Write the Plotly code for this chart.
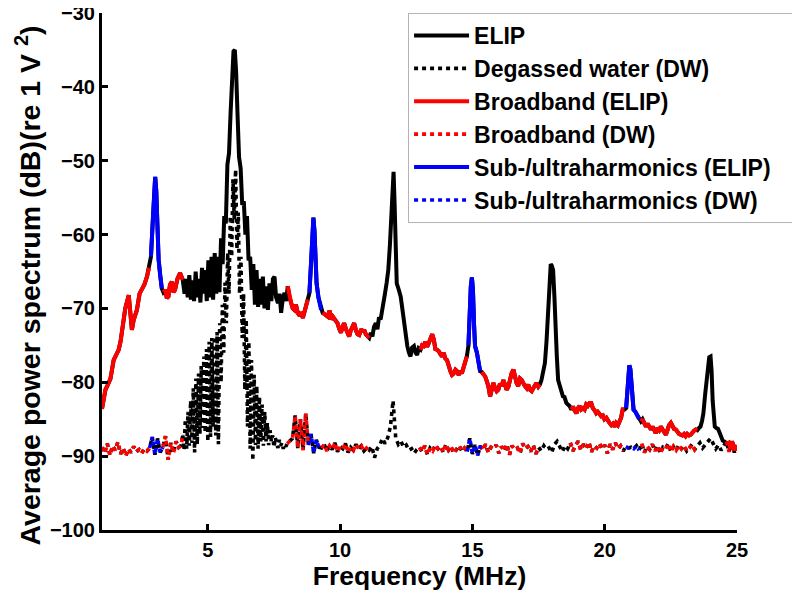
import numpy as np
import plotly.graph_objects as go

# ---------------- ELIP average power spectrum (solid) ----------------
elip_freq = [
    1.00, 1.06, 1.13, 1.20, 1.32, 1.44, 1.55, 1.63, 1.70, 1.76, 1.88, 2.01, 2.07, 2.13, 2.20, 2.32,
    2.42, 2.51, 2.60, 2.70, 2.78, 2.85, 2.92, 2.97, 3.01, 3.05, 3.10, 3.14, 3.20, 3.26, 3.32, 3.39,
    3.45, 3.51, 3.57, 3.64, 3.70, 3.76, 3.85, 3.95, 4.05, 4.12, 4.18, 4.24, 4.30, 4.36, 4.42, 4.48,
    4.54, 4.60, 4.66, 4.72, 4.78, 4.84, 4.90, 4.96, 5.02, 5.08, 5.14, 5.20, 5.26, 5.32, 5.38, 5.44,
    5.50, 5.56, 5.62, 5.68, 5.74, 5.80, 5.86, 5.92, 5.97, 6.02, 6.07, 6.12, 6.18, 6.24, 6.30, 6.36,
    6.42, 6.48, 6.54, 6.60, 6.66, 6.72, 6.78, 6.84, 6.90, 6.96, 7.02, 7.08, 7.14, 7.21, 7.27, 7.33,
    7.40, 7.46, 7.52, 7.58, 7.65, 7.71, 7.77, 7.84, 7.90, 7.96, 8.02, 8.09, 8.15, 8.21, 8.27, 8.33,
    8.40, 8.47, 8.53, 8.59, 8.65, 8.71, 8.78, 8.84, 8.90, 8.94, 8.99, 9.03, 9.07, 9.11, 9.18, 9.28,
    9.34, 9.43, 9.53, 9.60, 9.66, 9.72, 9.80, 9.90, 9.97, 10.03, 10.09, 10.15, 10.22, 10.28, 10.34, 10.40,
    10.47, 10.53, 10.60, 10.66, 10.72, 10.80, 10.86, 10.91, 10.97, 11.03, 11.10, 11.16, 11.22, 11.28, 11.35, 11.41,
    11.47, 11.53, 11.60, 11.66, 11.70, 11.76, 11.82, 11.88, 11.94, 11.98, 12.02, 12.06, 12.10, 12.14, 12.22, 12.29,
    12.35, 12.41, 12.47, 12.54, 12.60, 12.66, 12.72, 12.79, 12.85, 12.91, 12.97, 13.04, 13.10, 13.16, 13.22, 13.29,
    13.35, 13.41, 13.48, 13.54, 13.60, 13.66, 13.73, 13.79, 13.85, 13.91, 13.98, 14.04, 14.10, 14.17, 14.23, 14.29,
    14.36, 14.42, 14.48, 14.54, 14.60, 14.67, 14.73, 14.79, 14.85, 14.90, 14.94, 14.98, 15.02, 15.06, 15.10, 15.17,
    15.23, 15.29, 15.35, 15.42, 15.48, 15.54, 15.60, 15.67, 15.73, 15.79, 15.86, 15.92, 15.98, 16.04, 16.11, 16.17,
    16.23, 16.29, 16.36, 16.42, 16.48, 16.55, 16.61, 16.67, 16.73, 16.80, 16.86, 16.92, 16.98, 17.05, 17.11, 17.17,
    17.24, 17.30, 17.36, 17.42, 17.49, 17.55, 17.61, 17.67, 17.74, 17.80, 17.86, 17.91, 17.96, 18.00, 18.05, 18.10,
    18.14, 18.19, 18.24, 18.30, 18.36, 18.42, 18.48, 18.55, 18.61, 18.67, 18.74, 18.80, 18.86, 18.93, 18.99, 19.05,
    19.11, 19.18, 19.24, 19.30, 19.36, 19.43, 19.49, 19.55, 19.62, 19.68, 19.74, 19.80, 19.87, 19.93, 19.99, 20.06,
    20.12, 20.18, 20.25, 20.31, 20.37, 20.43, 20.50, 20.56, 20.62, 20.68, 20.75, 20.81, 20.86, 20.90, 20.93, 20.97,
    21.01, 21.05, 21.09, 21.16, 21.24, 21.30, 21.37, 21.43, 21.50, 21.56, 21.62, 21.69, 21.75, 21.81, 21.87, 21.93,
    21.99, 22.06, 22.12, 22.18, 22.24, 22.31, 22.37, 22.43, 22.50, 22.56, 22.62, 22.69, 22.75, 22.81, 22.87, 22.94,
    23.00, 23.06, 23.12, 23.19, 23.25, 23.31, 23.37, 23.44, 23.50, 23.56, 23.62, 23.68, 23.73, 23.80, 23.85, 23.90,
    23.95, 24.00, 24.04, 24.08, 24.12, 24.16, 24.22, 24.28, 24.34, 24.40, 24.46, 24.52, 24.57, 24.63, 24.69, 24.75,
    24.81, 24.88, 24.94, 25.00,
]
elip_db = [
    -83.6, -82.5, -81.0, -80.5, -79.5, -77.0, -76.0, -75.6, -74.5, -72.9, -70.0, -68.2, -70.0, -72.9, -71.5, -70.2,
    -68.0, -67.5, -66.8, -65.7, -64.5, -63.0, -58.0, -53.5, -52.2, -54.0, -60.0, -63.4, -65.5, -67.3, -67.8, -67.5,
    -68.6, -68.4, -66.8, -66.4, -67.8, -67.5, -66.0, -65.2, -66.1, -68.0, -66.0, -68.5, -65.5, -68.8, -66.2, -69.0,
    -65.0, -68.5, -66.0, -69.2, -64.5, -68.0, -64.8, -69.0, -63.5, -68.5, -63.0, -68.8, -62.5, -68.0, -63.0, -67.8,
    -60.5, -64.0, -57.5, -58.5, -50.5, -49.0, -43.5, -38.5, -35.2, -35.0, -38.0, -43.5, -49.5, -51.0, -56.0, -55.5,
    -60.0, -57.5, -63.5, -63.0, -67.5, -64.0, -69.5, -64.8, -69.8, -66.0, -69.5, -65.7, -70.0, -67.0, -70.2, -66.6,
    -69.0, -66.0, -65.7, -68.5, -69.3, -68.0, -70.6, -68.5, -67.9, -69.0, -67.0, -68.5, -69.3, -70.0, -70.2, -69.5,
    -70.6, -71.0, -70.5, -71.3, -70.5, -69.7, -68.8, -67.9, -64.0, -60.0, -57.7, -59.5, -63.5, -66.6, -68.5, -70.2,
    -70.6, -70.8, -71.1, -70.3, -71.5, -71.1, -71.5, -72.0, -72.8, -73.3, -72.5, -72.0, -72.8, -73.5, -73.8, -73.0,
    -72.3, -72.0, -73.0, -73.5, -73.6, -72.8, -73.2, -72.9, -73.5, -73.8, -74.0, -73.3, -73.8, -72.5, -72.0, -72.8,
    -71.2, -71.5, -70.0, -69.5, -67.9, -66.5, -64.8, -61.5, -56.0, -52.0, -51.5, -56.0, -63.5, -66.6, -67.5, -68.4,
    -70.0, -72.0, -73.5, -75.1, -76.0, -76.5, -75.3, -75.1, -76.0, -76.3, -75.4, -75.6, -75.0, -75.1, -74.5, -75.2,
    -74.7, -74.0, -73.5, -74.2, -75.5, -75.6, -75.8, -76.2, -76.5, -76.0, -76.8, -77.0, -77.8, -78.5, -79.0, -78.8,
    -78.3, -78.5, -79.0, -78.5, -78.8, -78.0, -77.0, -76.5, -75.0, -70.0, -67.0, -65.8, -67.5, -72.0, -75.1, -76.0,
    -77.5, -78.5, -78.6, -79.0, -79.2, -79.8, -80.5, -81.9, -81.0, -80.1, -80.8, -81.2, -81.0, -80.2, -80.5, -79.7,
    -80.3, -81.0, -80.6, -79.5, -78.8, -78.3, -79.5, -80.1, -80.5, -79.5, -79.7, -80.2, -80.5, -80.8, -80.3, -81.0,
    -81.2, -80.8, -80.5, -80.1, -80.6, -80.3, -79.7, -78.5, -77.4, -74.5, -70.2, -66.5, -64.0, -64.2, -64.8, -68.5,
    -72.9, -76.5, -79.7, -80.5, -81.0, -81.9, -82.0, -82.8, -83.0, -83.2, -83.7, -83.3, -83.8, -84.2, -83.5, -83.2,
    -83.7, -83.5, -83.7, -83.0, -83.2, -82.8, -82.8, -83.5, -83.8, -84.2, -84.0, -84.3, -84.6, -84.5, -85.0, -84.8,
    -85.3, -85.5, -85.8, -85.6, -86.0, -85.5, -85.8, -85.3, -84.8, -83.7, -83.7, -83.5, -81.0, -78.5, -77.7, -78.2,
    -80.5, -83.0, -83.7, -84.0, -84.6, -85.0, -85.3, -85.0, -85.6, -86.0, -85.6, -86.2, -86.4, -86.0, -86.5, -86.9,
    -86.2, -86.5, -86.0, -86.3, -86.8, -87.1, -86.5, -85.8, -85.5, -86.0, -86.3, -86.4, -86.8, -87.0, -87.1, -87.2,
    -87.0, -87.3, -87.0, -87.2, -87.1, -86.8, -86.6, -86.4, -86.5, -86.2, -86.0, -85.2, -84.2, -81.5, -79.5, -78.0,
    -76.6, -76.5, -78.5, -82.5, -85.0, -86.0, -86.2, -86.3, -86.8, -87.5, -87.9, -88.0, -88.2, -88.3, -88.2, -89.0,
    -88.0, -88.7, -89.2, -88.5,
]

# ---------------- Degassed water (DW) spectrum (dotted) ----------------
# 1.0 .. 3.9 MHz, 0.1 MHz bins
dw_low_db = [
    -88.8, -89.6, -88.3, -89.9, -88.6, -89.2, -88.1, -89.7, -88.9, -90.0,
    -89.0, -89.5, -88.7, -89.4, -89.1, -89.6, -89.0, -89.3, -88.9, -87.4,
    -89.8, -87.6, -89.5, -88.8, -87.3, -90.5, -88.2, -89.6, -88.0, -88.8,
]
# 4.00 .. 7.95 MHz, 0.05 MHz bins
dw_mid_db = [
    -88.5, -87.0, -89.2, -85.0, -89.0, -84.0, -88.6, -82.5, -88.2, -80.8,
    -89.5, -79.5, -88.4, -78.8, -87.0, -77.8, -86.2, -76.5, -86.8, -75.5,
    -88.0, -74.5, -87.4, -74.0, -86.0, -73.8, -87.2, -73.2, -88.4, -72.0,
    -80.0, -69.5, -76.0, -66.5, -72.0, -62.5, -68.0, -57.5, -63.0, -52.5,
    -58.0, -51.2, -62.0, -57.0, -68.0, -63.0, -74.0, -68.0, -81.0, -71.5,
    -86.0, -74.5, -89.0, -77.0, -90.6, -79.0, -88.5, -80.5, -89.0, -82.0,
    -88.0, -83.0, -88.6, -84.0, -88.0, -85.5, -88.5, -86.5, -88.0, -87.2,
    -88.8, -87.5, -88.3, -88.9, -87.8, -88.6, -88.2, -89.0, -88.4, -88.7,
]
# 8.0 .. 25.0 MHz, 0.1 MHz bins
dw_high_db = [
    -88.3, -88.0, -87.6, -84.5, -88.9, -85.0, -89.2, -84.2, -88.5, -87.0,
    -89.6, -87.8, -88.8, -88.9, -88.4, -89.3, -88.6, -89.1, -88.2, -89.4,
    -88.7, -89.0, -88.3, -89.5, -88.8, -89.2, -88.4, -89.0, -88.6, -89.3,
    -88.9, -89.2, -88.7, -90.2, -89.0, -88.5, -87.6, -88.3, -87.5, -86.0,
    -82.5, -87.5, -88.4, -88.0, -88.8, -88.5, -89.2, -89.0, -89.6, -89.1,
    -88.8, -89.4, -88.6, -89.8, -88.9, -89.3, -88.5, -89.0, -88.7, -89.5,
    -88.4, -89.2, -88.8, -89.6, -89.0, -88.6, -89.3, -88.9, -89.4, -87.6,
    -89.7, -88.5, -89.9, -88.6, -89.2, -88.4, -89.5, -88.8, -89.0, -88.5,
    -89.6, -88.7, -89.3, -88.4, -89.8, -88.6, -89.1, -88.9, -89.6, -88.3,
    -89.0, -88.7, -89.4, -88.5, -89.7, -88.8, -89.3, -88.6, -89.1, -88.9,
    -89.5, -88.4, -88.0, -88.8, -89.4, -88.6, -89.0, -88.2, -89.3, -88.5,
    -88.0, -89.2, -88.4, -88.9, -88.1, -89.4, -88.6, -88.9, -88.3, -89.0,
    -88.5, -89.6, -88.4, -89.1, -88.2, -89.0, -88.6, -89.3, -88.7, -88.9,
    -88.8, -89.0, -88.6, -89.2, -88.3, -89.5, -88.7, -89.1, -88.4, -89.3,
    -88.6, -89.6, -88.8, -89.0, -88.3, -89.4, -88.7, -89.2, -88.5, -89.0,
    -88.6, -89.3, -88.9, -88.4, -89.1, -88.6, -88.2, -88.9, -88.4, -87.9,
    -87.6, -88.3, -89.0, -88.5, -89.2, -88.6, -88.0, -89.4, -88.2, -89.5,
    -88.6,
]

# frequency bands that are highlighted (MHz)
broadband_bands = [(1.0, 2.80), (3.30, 4.05), (8.0, 8.80), (9.30, 11.12), (13.0, 14.80),
                   (15.30, 17.58), (18.70, 20.76), (21.32, 23.52), (24.60, 25.0)]
subultra_bands = [(2.80, 3.30), (8.80, 9.30), (14.80, 15.30), (20.76, 21.32)]

legend_names = ["ELIP", "Degassed water (DW)", "Broadband (ELIP)", "Broadband (DW)",
                "Sub-/ultraharmonics (ELIP)&nbsp;&nbsp;&nbsp;&nbsp;", "Sub-/ultraharmonics (DW)"]
y_title = "Average power spectrum (dB)(re 1 V <sup>2</sup>)"
x_title = "Frequency (MHz)"

# ---------------- build ----------------
dw_freq = np.concatenate([
    np.round(1.0 + 0.1 * np.arange(len(dw_low_db)), 3),
    np.round(4.0 + 0.05 * np.arange(len(dw_mid_db)), 3),
    np.round(8.0 + 0.1 * np.arange(len(dw_high_db)), 3),
])
dw_db = np.array(dw_low_db + dw_mid_db + dw_high_db, dtype=float)
e_f = np.array(elip_freq, dtype=float)
e_v = np.array(elip_db, dtype=float)


def band_only(f, v, bands):
    """keep values inside the bands; separate bands with gaps"""
    xs, ys = [], []
    for lo, hi in bands:
        m = (f >= lo - 1e-9) & (f <= hi + 1e-9)
        xs += list(f[m]) + [None]
        ys += list(v[m]) + [None]
    return xs, ys


DOT = "4px,4px"
traces = [
    (e_f, e_v, "black", "solid", legend_names[0]),
    (dw_freq, dw_db, "black", DOT, legend_names[1]),
]
bx, by = band_only(e_f, e_v, broadband_bands)
traces.append((bx, by, "red", "solid", legend_names[2]))
bx, by = band_only(dw_freq, dw_db, broadband_bands)
traces.append((bx, by, "red", DOT, legend_names[3]))
bx, by = band_only(e_f, e_v, subultra_bands)
traces.append((bx, by, "blue", "solid", legend_names[4]))
bx, by = band_only(dw_freq, dw_db, subultra_bands)
traces.append((bx, by, "blue", DOT, legend_names[5]))

fig = go.Figure()
for i, (x, y, col, dash, name) in enumerate(traces):
    fig.add_trace(go.Scatter(
        x=x, y=y, mode="lines", name=name, legendgroup=f"g{i}",
        line=dict(color=col, width=4 if dash == "solid" else 3.6, dash=dash),
        connectgaps=False,
    ))

FONT = "Liberation Sans, Arial, sans-serif"
# page body adds an 8px offset; plot area on screen: x 102..741, y 13..530
fig.update_layout(
    width=800, height=598,
    margin=dict(l=94, r=67, t=5, b=76),
    paper_bgcolor="white", plot_bgcolor="white",
    font=dict(family=FONT, color="black", size=20, weight="bold"),
    legend=dict(
        x=(410 - 102) / 639, y=1.0, xanchor="left", yanchor="top",
        bordercolor="#b4b4b4", borderwidth=1, bgcolor="rgba(255,255,255,0)",
        font=dict(family=FONT, size=23, color="black", weight="bold"),
        tracegroupgap=0, itemwidth=55,
    ),
    showlegend=True,
    annotations=[dict(
        text=y_title, textangle=-90, showarrow=False,
        xref="paper", yref="paper", x=(28 - 102) / 639, y=(530 - 285) / 517,
        xanchor="center", yanchor="middle",
        font=dict(family=FONT, size=28.5, color="black", weight="bold"),
    )],
)
fig.update_xaxes(
    range=[1, 25], tickvals=[5, 10, 15, 20, 25], automargin=False,
    showline=True, linewidth=3, linecolor="black", mirror=False,
    ticks="inside", ticklen=6, tickwidth=2.5, tickcolor="black",
    showgrid=False, zeroline=False, ticklabeloverflow="allow",
    tickfont=dict(family=FONT, size=20, weight="bold"),
    title=dict(text=x_title, font=dict(family=FONT, size=26.5, weight="bold"), standoff=6),
)
fig.update_yaxes(
    range=[-100, -30], tickvals=[-100, -90, -80, -70, -60, -50, -40, -30], automargin=False,
    showline=True, linewidth=3, linecolor="black", mirror=False,
    ticks="inside", ticklen=6, tickwidth=2.5, tickcolor="black",
    showgrid=False, zeroline=False, ticklabeloverflow="allow",
    tickfont=dict(family=FONT, size=20, weight="bold"),
)

fig.write_html("out.html")
